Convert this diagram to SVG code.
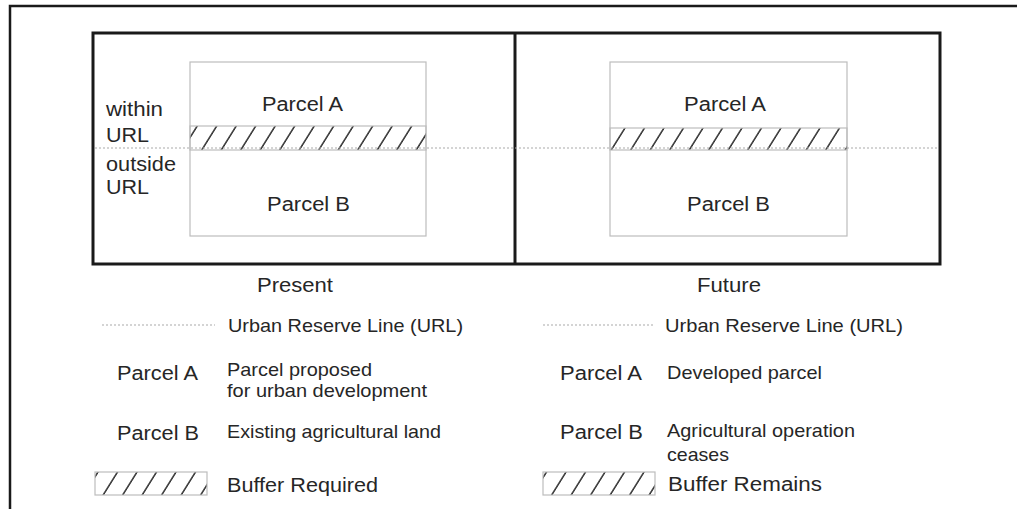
<svg xmlns="http://www.w3.org/2000/svg" width="1017" height="509" viewBox="0 0 1017 509">
<style>
text{font-family:"Liberation Sans",Arial,sans-serif;font-size:19px;fill:#262626;}
.lbl{font-size:20px;}
.frame{fill:none;stroke:#1a1a1a;stroke-width:2.5;}
.panel{fill:none;stroke:#1a1a1a;stroke-width:3;}
.parcel{fill:#fff;stroke:#bdbdbd;stroke-width:1.2;}
.band{fill:url(#hatch);stroke:#bdbdbd;stroke-width:1.2;}
.url{stroke:#aaa;stroke-width:1.2;stroke-dasharray:2 2;fill:none;}
</style>
<defs>
<pattern id="hatch" patternUnits="userSpaceOnUse" width="19.5" height="10" patternTransform="skewX(-32)">
<line x1="3" y1="-1" x2="3" y2="11" stroke="#333" stroke-width="1.8"/>
</pattern>
</defs>
<rect width="1017" height="509" fill="#fff"/>
<path class="frame" d="M10,509 V6 H1017"/>
<g id="panels">
<rect class="panel" x="93" y="33" width="847" height="231"/>
<line class="panel" x1="515" y1="33" x2="515" y2="264"/>
</g>
<g id="present-parcels">
<rect class="parcel" x="190" y="62" width="236" height="174"/>
<rect class="band" x="190" y="126" width="236" height="24"/>
<text class="lbl" x="262" y="111" textLength="81" lengthAdjust="spacingAndGlyphs">Parcel A</text>
<text class="lbl" x="267" y="211" textLength="83" lengthAdjust="spacingAndGlyphs">Parcel B</text>
</g>
<g id="future-parcels">
<rect class="parcel" x="610" y="62" width="237" height="174"/>
<rect class="band" x="610" y="128" width="237" height="22"/>
<text class="lbl" x="684" y="111" textLength="82" lengthAdjust="spacingAndGlyphs">Parcel A</text>
<text class="lbl" x="687" y="211" textLength="83" lengthAdjust="spacingAndGlyphs">Parcel B</text>
</g>
<g id="connectors">
<line class="url" x1="95" y1="148" x2="938" y2="148"/>
</g>
<g id="url-labels">
<text class="lbl" x="106" y="116" textLength="57" lengthAdjust="spacingAndGlyphs">within</text>
<text class="lbl" x="106" y="142" textLength="43" lengthAdjust="spacingAndGlyphs">URL</text>
<text class="lbl" x="106" y="171" textLength="70" lengthAdjust="spacingAndGlyphs">outside</text>
<text class="lbl" x="106" y="194" textLength="43" lengthAdjust="spacingAndGlyphs">URL</text>
</g>
<g id="legend-present">
<text class="lbl" x="257" y="292" textLength="76" lengthAdjust="spacingAndGlyphs">Present</text>
<line class="url" x1="102" y1="325" x2="215" y2="325"/>
<text x="228" y="332" textLength="235" lengthAdjust="spacingAndGlyphs">Urban Reserve Line (URL)</text>
<text class="lbl" x="117" y="380" textLength="81" lengthAdjust="spacingAndGlyphs">Parcel A</text>
<text x="227" y="376" textLength="145" lengthAdjust="spacingAndGlyphs">Parcel proposed</text>
<text x="227" y="397" textLength="200" lengthAdjust="spacingAndGlyphs">for urban development</text>
<text class="lbl" x="117" y="440" textLength="82" lengthAdjust="spacingAndGlyphs">Parcel B</text>
<text x="227" y="438" textLength="214" lengthAdjust="spacingAndGlyphs">Existing agricultural land</text>
<rect class="band" x="95" y="472" width="112" height="23"/>
<text class="lbl" x="227" y="492" textLength="151" lengthAdjust="spacingAndGlyphs">Buffer Required</text>
</g>
<g id="legend-future">
<text class="lbl" x="697" y="292" textLength="64" lengthAdjust="spacingAndGlyphs">Future</text>
<line class="url" x1="543" y1="325" x2="655" y2="325"/>
<text x="665" y="332" textLength="238" lengthAdjust="spacingAndGlyphs">Urban Reserve Line (URL)</text>
<text class="lbl" x="560" y="380" textLength="82" lengthAdjust="spacingAndGlyphs">Parcel A</text>
<text x="667" y="379" textLength="155" lengthAdjust="spacingAndGlyphs">Developed parcel</text>
<text class="lbl" x="560" y="439" textLength="83" lengthAdjust="spacingAndGlyphs">Parcel B</text>
<text x="667" y="437" textLength="188" lengthAdjust="spacingAndGlyphs">Agricultural operation</text>
<text x="667" y="461" textLength="62" lengthAdjust="spacingAndGlyphs">ceases</text>
<rect class="band" x="543" y="472" width="112" height="23"/>
<text class="lbl" x="668" y="491" textLength="154" lengthAdjust="spacingAndGlyphs">Buffer Remains</text>
</g>
</svg>
